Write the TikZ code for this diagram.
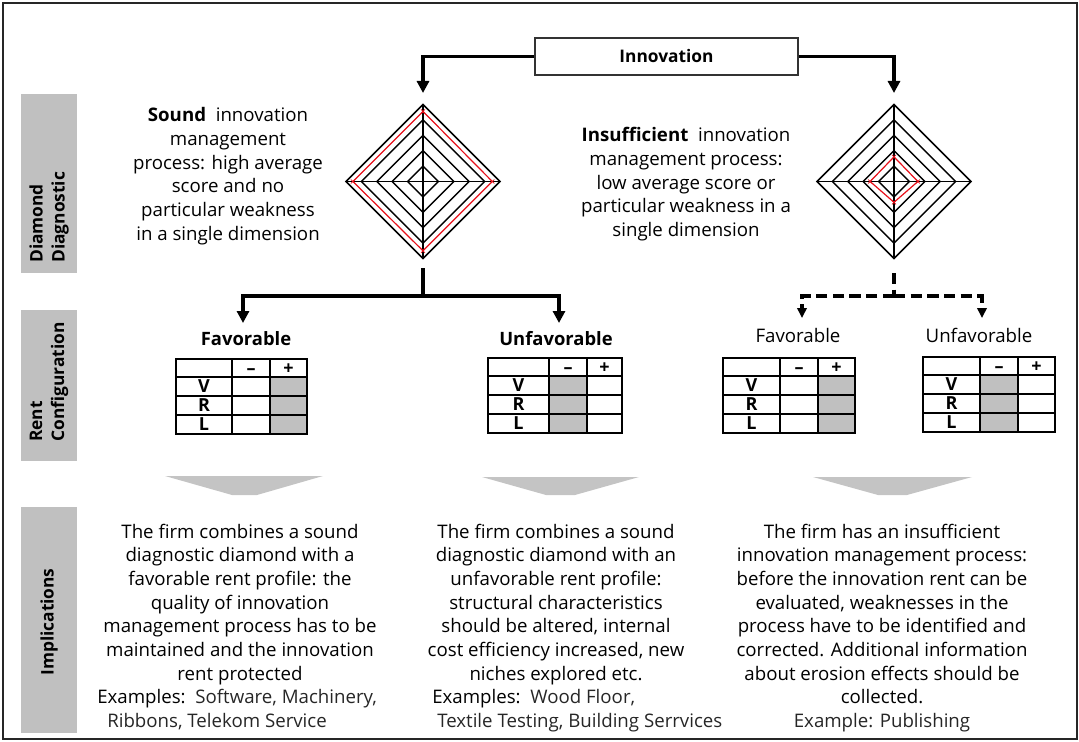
\documentclass[tikz,border=0pt]{standalone}
\usepackage{fontspec}
\setmainfont{Open Sans}
\usetikzlibrary{arrows.meta}
\definecolor{boxgray}{HTML}{C0C0C0}
\definecolor{chevgray}{HTML}{C4C4C4}
\definecolor{exgray}{HTML}{262626}
\definecolor{dred}{HTML}{E8101A}
\newcommand{\fl}{\rule{0pt}{12pt}}
\newcommand{\xmk}[2]{\draw[dred, line width=0.5pt] (#1-2,#2-2) -- (#1+2,#2+2) (#1-2,#2+2) -- (#1+2,#2-2);}
\newcommand{\radar}[6]{%
  \foreach \f in {1,0.8,0.6,0.4,0.2}
    \draw[dline] (#1,#2-77*\f) -- (#1+77*\f,#2) -- (#1,#2+77*\f) -- (#1-77*\f,#2) -- cycle;
  \draw[dline] (#1,#2-77) -- (#1,#2+77) (#1-77,#2) -- (#1+77,#2);
  \draw[dred, line width=0.9pt] (#1,#2-77*#3) -- (#1+77*#4,#2) -- (#1,#2+77*#5) -- (#1-77*#6,#2) -- cycle;
  \xmk{#1}{#2-77*#3}\xmk{#1+77*#4}{#2}\xmk{#1}{#2+77*#5}\xmk{#1-77*#6}{#2}
}
\newcommand{\renttable}[7]{%
  \ifnum#7=3 \fill[boxgray] (#4,#6+18) rectangle (#5,#6+75); \else \fill[boxgray] (#3,#6+18) rectangle (#4,#6+75); \fi
  \foreach \yy in {18,37,56} \draw[tbl] (#2,#6+\yy) -- (#5,#6+\yy);
  \draw[tbl] (#3,#6) -- (#3,#6+75) (#4,#6) -- (#4,#6+75);
  \draw[tbl] (#2,#6) rectangle (#5,#6+75);
  \node[tt] (#1m) at ({(#3+#4)/2},#6+9) {–};
  \node[tt] (#1p) at ({(#4+#5)/2},#6+9) {+};
  \node[tt] (#1v) at ({(#2+#3)/2},#6+27.5) {V};
  \node[tt] (#1r) at ({(#2+#3)/2},#6+46.5) {R};
  \node[tt] (#1l) at ({(#2+#3)/2},#6+65.5) {L};
}
\begin{document}
\begin{tikzpicture}[x=0.75pt,y=-0.75pt,
  body/.style={font=\fontsize{14}{17.74}\selectfont, align=center, inner sep=0pt, anchor=north},
  exl/.style={font=\fontsize{14}{17.74}\selectfont, align=left, inner sep=0pt, anchor=north west},
  sidetxt/.style={font=\bfseries\fontsize{13}{16.5}\selectfont, rotate=90, align=left, anchor=west, inner sep=0pt},
  hb/.style={font=\bfseries\fontsize{13.8}{14}\selectfont, anchor=base, inner sep=0pt},
  hr/.style={font=\fontsize{14}{14}\selectfont, anchor=base, inner sep=0pt},
  tt/.style={font=\bfseries\fontsize{13.5}{14}\selectfont, inner sep=0pt, text height=9.6pt, text depth=0pt},
  tbl/.style={line width=1.1pt, black},
  dline/.style={line width=1.1pt, black, line join=miter},
  arr/.style={line width=2.4pt, line join=miter, -{Triangle[width=9pt,length=9pt]}},
  darr/.style={line width=2.3pt, dash pattern=on 8.5pt off 4pt, -{Triangle[width=7pt,length=7.5pt]}},
]
\useasboundingbox (0,0) rectangle (1079,742);
\draw[line width=1.1pt, black!85] (3,3) rectangle (1077,739);

% side labels
\fill[boxgray] (21,94) rectangle (77,273);
\fill[boxgray] (21,310) rectangle (77,461);
\fill[boxgray] (21,507) rectangle (77,733);
\node[sidetxt] (sdd) at (49,263) {Diamond\\Diagnostic};
\node[sidetxt] (src) at (49,442) {Rent\\Configuration};
\node[sidetxt, anchor=center] (sim) at (49,622) {Implications};

% innovation box
\node[draw=black!80, line width=1.1pt, minimum width=197.25pt, minimum height=27.75pt,
      font=\bfseries\fontsize{13}{13}\selectfont, inner sep=0pt] (inno) at (666.5,56.5) {Innovation};

% diamonds
\coordinate (d1in) at (423,93);
\coordinate (d2in) at (894,93);
\radar{423}{181.5}{0.91}{0.90}{0.90}{0.91}
\radar{894}{181.5}{0.32}{0.31}{0.27}{0.31}
\draw[arr] (inno.west) -| (d1in);
\draw[arr] (inno.east) -| (d2in);

% descriptive texts
\node[body] (tsound) at (228,105.5) {\fl\textbf{Sound}\ \ innovation\\management\\process: high average\\score and no\\particular weakness\\in a single dimension};
\node[body] (tinsuf) at (686,125.7) {\fl\textbf{Insufficient}\ \ innovation\\management process:\\low average score or\\particular weakness in a\\single dimension};

% branches
\coordinate (d1bot) at (423,268);
\coordinate (s1) at (423,296);
\coordinate (f1in) at (243,323);
\coordinate (u1in) at (559,323);
\draw[line width=2.4pt] (d1bot) -- (s1);
\draw[arr] (s1) -| (f1in);
\draw[arr] (s1) -| (u1in);

\coordinate (d2bot) at (894,273);
\coordinate (s2) at (894,296);
\coordinate (f2in) at (802,318);
\coordinate (u2in) at (982,318);
\draw[line width=2.3pt, dash pattern=on 8.5pt off 4pt] (d2bot) -- (s2);
\draw[darr] (s2) -| (f2in);
\draw[darr] (s2) -| (u2in);

% headings
\node[hb] (h1) at (246,345) {Favorable};
\node[hb] (h2) at (556,345) {Unfavorable};
\node[hr] (h3) at (798,342) {Favorable};
\node[hr] (h4) at (979,342) {Unfavorable};

% tables
\renttable{ta}{176}{232}{270}{307}{359}{3}
\renttable{tb}{488}{549}{587}{622}{358}{2}
\renttable{tc}{723}{780}{818}{855}{358}{3}
\renttable{td}{923}{980}{1018}{1055}{357}{2}

% chevrons
\fill[chevgray] (165,476) -- (323,476) -- (257,495) -- (232,495) -- cycle;
\fill[chevgray] (482,477) -- (639,477) -- (575,495) -- (546,495) -- cycle;
\fill[chevgray] (813,477) -- (972,477) -- (907,495) -- (878,495) -- cycle;

% implications
\node[body] (imp1) at (240,522) {\fl The firm combines a sound\\diagnostic diamond with a\\favorable rent profile: the\\quality of innovation\\management process has to be\\maintained and the innovation\\rent protected};
\node[exl] (ex1) at (97,687.7) {\fl Examples:\ \ {\color{exgray}Software, Machinery,}\\\hspace*{7.5pt}{\color{exgray}Ribbons, Telekom Service}};
\node[body] (imp2) at (556,522) {\fl The firm combines a sound\\diagnostic diamond with an\\unfavorable rent profile:\\structural characteristics\\should be altered, internal\\cost efficiency increased, new\\niches explored etc.};
\node[exl] (ex2) at (432,687.7) {\fl Examples:\ \ {\color{exgray}Wood Floor,}\\\hspace*{3.75pt}{\color{exgray}Textile Testing, Building Serrvices}};
\node[body] (imp3) at (882,522) {\fl The firm has an insufficient\\innovation management process:\\before the innovation rent can be\\evaluated, weaknesses in the\\process have to be identified and\\corrected. Additional information\\about erosion effects should be\\collected.\\{\color{exgray}Example: Publishing}};
\end{tikzpicture}
\end{document}
